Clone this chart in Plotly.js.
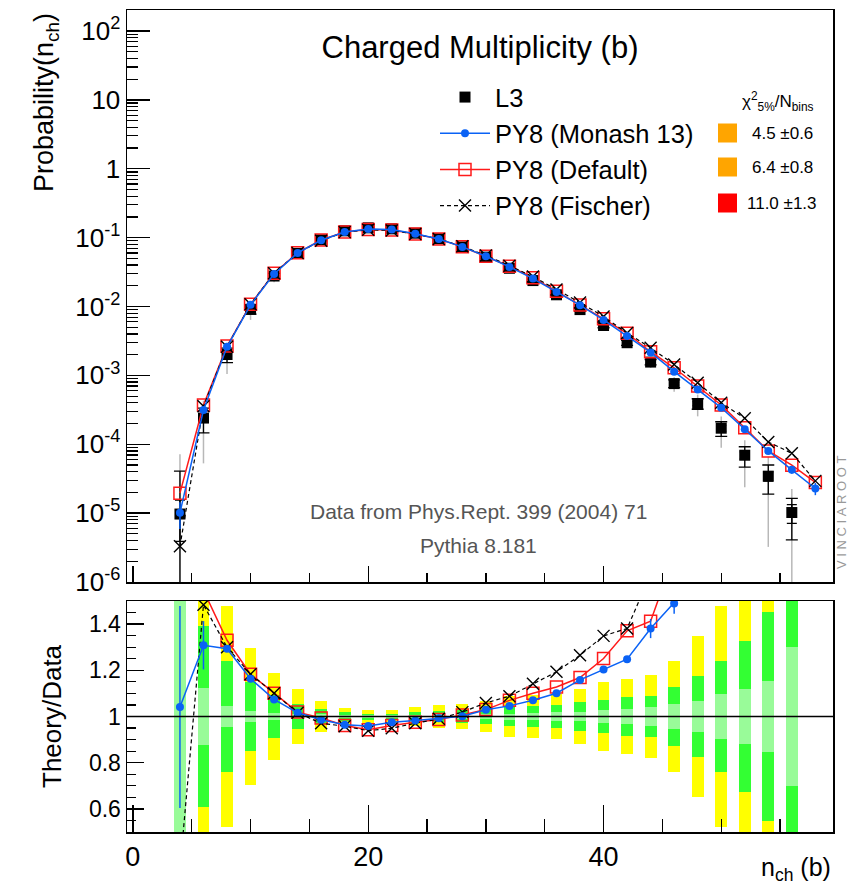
<!DOCTYPE html>
<html><head><meta charset="utf-8">
<script src="https://cdn.plot.ly/plotly-3.0.1.min.js"></script>
<style>html,body{margin:0;padding:0;background:#fff;} #plot{width:861px;height:887px;}</style>
</head><body><div id="plot"></div>
<script>
// ---------- data ----------
const nModel = [4,6,8,10,12,14,16,18,20,22,24,26,28,30,32,34,36,38,40,42,44,46,48,50,52,54,56,58];
const nData  = [4,6,8,10,12,14,16,18,20,22,24,26,28,30,32,34,36,38,40,42,44,46,48,50,52,54,56];
const l3 = [9.7e-6, 2.4e-4, 2.01e-3, 9.1e-3, 0.0277, 0.059, 0.093, 0.1255, 0.1387, 0.134, 0.116, 0.0964, 0.0733,
            0.0521, 0.0359, 0.0238, 0.0148, 0.00902, 0.0053, 0.00298, 0.00156, 0.00076, 0.00039, 0.000171,
            0.0000693, 0.0000344, 0.0000102];
// relative uncertainties of L3 (stat, total 1 sigma, 2 sigma band)
const l3Stat = [0.6, 0.123, 0.045, 0.022, 0.015, 0.012, 0.010, 0.008, 0.007, 0.007, 0.008, 0.009, 0.010, 0.011,
                0.013, 0.015, 0.018, 0.018, 0.027, 0.031, 0.039, 0.052, 0.069, 0.098, 0.121, 0.152, 0.302];
const l3Tot  = [3.2, 0.39, 0.24, 0.149, 0.095, 0.055, 0.032, 0.018, 0.013, 0.013, 0.020, 0.025, 0.029, 0.034,
                0.043, 0.047, 0.050, 0.061, 0.073, 0.083, 0.089, 0.129, 0.174, 0.240, 0.328, 0.453, 0.60];
const l3Two  = [6.4, 0.78, 0.48, 0.297, 0.19, 0.117, 0.065, 0.036, 0.026, 0.026, 0.041, 0.051, 0.056, 0.068,
                0.087, 0.094, 0.098, 0.12, 0.148, 0.163, 0.178, 0.24, 0.348, 0.48, 0.656, 0.906, 1.2];
const monash = [1.01e-5, 3.14e-4, 2.60e-3, 1.059e-2, 0.02975, 0.05994, 0.0917, 0.1210, 0.1330, 0.1307, 0.1140,
                0.0957, 0.0734, 0.0536, 0.03755, 0.02547, 0.01629, 0.01045, 0.00638, 0.00372, 0.002154, 0.001132,
                6.26e-4, 3.4e-4, 1.65e-4, 8.0e-5, 4.25e-5, 2.28e-5];
const monashErr = [0.42, 0.08, 0.01, 0,0,0,0,0,0,0,0,0,0,0,0,0,0,0, 0.01, 0.01, 0.03, 0.03, 0.04, 0.05, 0.07, 0.09, 0.12, 0.2];
const deflt = [1.95e-5, 3.71e-4, 2.673e-3, 1.0765e-2, 0.0305, 0.06012, 0.09244, 0.1206, 0.1308, 0.1288, 0.1131,
               0.09515, 0.07381, 0.05366, 0.03841, 0.0262, 0.01669, 0.01054, 0.00663, 0.004086, 0.002204, 1.29e-3,
               7.0e-4, 3.72e-4, 1.74e-4, 8.0e-5, 4.97e-5, 2.79e-5];
const fischer = [3.3e-6, 3.56e-4, 2.613e-3, 1.0765e-2, 0.0305, 0.05994, 0.0903, 0.1202, 0.1302, 0.1272, 0.1126,
                 0.09544, 0.07469, 0.05517, 0.03906, 0.02718, 0.01766, 0.01141, 0.00715, 0.004115, 2.52e-3, 1.44e-3,
                 7.8e-4, 4.0e-4, 2.38e-4, 1.08e-4, 7.4e-5, 2.94e-5];
const seriesNames = ['L3', 'PY8 (Monash 13)', 'PY8 (Default)', 'PY8 (Fischer)'];
const chi2Text = ['4.5 \u00B10.6', '6.4 \u00B10.8', '11.0 \u00B11.3'];
const chi2Colors = ['#FFA500', '#FFA500', '#FF0000'];
const yTickVals = [1e-6, 1e-5, 1e-4, 1e-3, 1e-2, 1e-1, 1, 10, 100];
const yTickText = ['10<sup>-6</sup>','10<sup>-5</sup>','10<sup>-4</sup>','10<sup>-3</sup>','10<sup>-2</sup>',
                   '10<sup>-1</sup>','1','10','10<sup>2</sup>'];

// ---------- layout helpers ----------
const W = 861, H = 887, ML = 127, MR = 28, MT = 10, MB = 55;
const PW = W - ML - MR, PH = H - MT - MB;
const px2x = p => (p - ML) / PW;
const py2y = p => (H - MB - p) / PH;
const FONT = 'Liberation Sans, Arial, Helvetica, sans-serif';
const BLUE = '#0A62F5', RED = '#FF1A1A';

const ratio = arr => nData.map((n, i) => arr[i] / l3[i]);
const scaled = (vals, rel) => vals.map((v, i) => v * rel[i]);

const minorLog = [];
for (let k = -6; k <= 2; k++) for (let d = 2; d <= 9; d++) minorLog.push(d * Math.pow(10, k));

const traces = [];
// data uncertainty bars in the top panel
traces.push({x: nData, y: l3, type: 'scatter', mode: 'markers', marker: {size: 1, color: 'rgba(0,0,0,0)'},
  error_y: {type: 'data', array: scaled(l3, l3Two), color: '#b8b8b8', thickness: 1.5, width: 0},
  showlegend: false, hoverinfo: 'skip', xaxis: 'x', yaxis: 'y'});
traces.push({x: nData, y: l3, type: 'scatter', mode: 'markers', marker: {size: 1, color: 'rgba(0,0,0,0)'},
  error_y: {type: 'data', array: scaled(l3, l3Tot), color: '#000', thickness: 1.3, width: 6},
  showlegend: false, hoverinfo: 'skip', xaxis: 'x', yaxis: 'y'});
traces.push({x: nData, y: l3, type: 'scatter', mode: 'markers', marker: {size: 1, color: 'rgba(0,0,0,0)'},
  error_y: {type: 'data', array: scaled(l3, l3Stat), color: '#000', thickness: 1.3, width: 5},
  showlegend: false, hoverinfo: 'skip', xaxis: 'x', yaxis: 'y'});
traces.push({x: nData, y: l3, type: 'scatter', mode: 'markers', name: seriesNames[0], legendrank: 1,
  marker: {symbol: 'square', size: 11, color: '#000'}, xaxis: 'x', yaxis: 'y'});
traces.push({x: nModel, y: deflt, type: 'scatter', mode: 'lines+markers', name: seriesNames[2], legendrank: 3,
  line: {color: RED, width: 1.5}, marker: {symbol: 'square-open', size: 12, color: RED, line: {width: 1.5, color: RED}},
  xaxis: 'x', yaxis: 'y'});
traces.push({x: nModel, y: fischer, type: 'scatter', mode: 'lines+markers', name: seriesNames[3], legendrank: 4,
  line: {color: '#000', width: 1.2, dash: '4px,3px'}, marker: {symbol: 'x-thin-open', size: 12, color: '#000', line: {width: 1.4, color: '#000'}},
  xaxis: 'x', yaxis: 'y'});
traces.push({x: nModel, y: monash, type: 'scatter', mode: 'lines+markers', name: seriesNames[1], legendrank: 2,
  line: {color: BLUE, width: 1.5}, marker: {symbol: 'circle', size: 8, color: BLUE},
  error_y: {type: 'data', array: scaled(monash, monashErr), color: BLUE, thickness: 1.5, width: 0},
  xaxis: 'x', yaxis: 'y'});

// ratio panel: data uncertainty bands
const band = (rel, color) => ({x: nData, y: rel.map(e => 2 * e), base: rel.map(e => 1 - e), type: 'bar',
  width: nData.map(() => 1), marker: {color: color, line: {width: 0}}, showlegend: false, hoverinfo: 'skip',
  xaxis: 'x2', yaxis: 'y2'});
traces.push(band(l3Two, '#FFFF00'));
traces.push(band(l3Tot, '#33FF33'));
traces.push(band(l3Stat, '#99FB99'));

const rDef = ratio(deflt), rFis = ratio(fischer), rMon = ratio(monash);
traces.push({x: nData, y: rDef, type: 'scatter', mode: 'lines+markers', showlegend: false,
  line: {color: RED, width: 1.5}, marker: {symbol: 'square-open', size: 12, color: RED, line: {width: 1.5, color: RED}},
  xaxis: 'x2', yaxis: 'y2'});
traces.push({x: nData, y: rFis, type: 'scatter', mode: 'lines+markers', showlegend: false,
  line: {color: '#000', width: 1.2, dash: '4px,3px'}, marker: {symbol: 'x-thin-open', size: 12, color: '#000', line: {width: 1.4, color: '#000'}},
  xaxis: 'x2', yaxis: 'y2'});
traces.push({x: nData, y: rMon, type: 'scatter', mode: 'lines+markers', showlegend: false,
  line: {color: BLUE, width: 1.5}, marker: {symbol: 'circle', size: 8, color: BLUE},
  error_y: {type: 'data', array: rMon.map((r, i) => r * monashErr[i]), color: BLUE, thickness: 1.5, width: 0},
  xaxis: 'x2', yaxis: 'y2'});

const axBase = {showline: true, mirror: true, linecolor: '#000', linewidth: 1.5, showgrid: false, zeroline: false,
  ticks: 'inside', tickcolor: '#000', tickwidth: 1.3, tickfont: {family: FONT, size: 26, color: '#000'}};

const annotations = [
  {text: 'Probability(n<sub>ch</sub>)', textangle: -90, xref: 'paper', yref: 'paper', x: px2x(46), y: py2y(103),
   xanchor: 'center', yanchor: 'middle', showarrow: false, font: {family: FONT, size: 27, color: '#000'}},
  {text: 'Theory/Data', textangle: -90, xref: 'paper', yref: 'paper', x: px2x(52), y: py2y(716),
   xanchor: 'center', yanchor: 'middle', showarrow: false, font: {family: FONT, size: 26, color: '#000'}},
  {text: 'n<sub>ch</sub> (b)', xref: 'paper', yref: 'paper', x: px2x(833), y: py2y(869),
   xanchor: 'right', yanchor: 'middle', showarrow: false, font: {family: FONT, size: 25, color: '#000'}},
  {text: 'Data from Phys.Rept. 399 (2004) 71', xref: 'paper', yref: 'paper', x: px2x(478), y: py2y(511),
   xanchor: 'center', yanchor: 'middle', showarrow: false, font: {family: FONT, size: 21, color: '#555'}},
  {text: 'Pythia 8.181', xref: 'paper', yref: 'paper', x: px2x(478), y: py2y(545),
   xanchor: 'center', yanchor: 'middle', showarrow: false, font: {family: FONT, size: 21, color: '#555'}},
  {text: '\u03C7<sup>2</sup><sub>5%</sub>/N<sub>bins</sub>', xref: 'paper', yref: 'paper', x: px2x(778), y: py2y(101),
   xanchor: 'center', yanchor: 'middle', showarrow: false, font: {family: FONT, size: 17, color: '#000'}},
  {text: 'V\u00A0I\u00A0N\u00A0C\u00A0I\u00A0A\u00A0R\u00A0O\u00A0O\u00A0T', textangle: -90, xref: 'paper', yref: 'paper',
   x: px2x(841), y: py2y(513), xanchor: 'center', yanchor: 'middle', showarrow: false,
   font: {family: FONT, size: 13, color: '#999'}}
];
const rowY = [133, 167, 203];
const shapes = [
  {type: 'line', xref: 'x2 domain', yref: 'y2', x0: 0, x1: 1, y0: 1, y1: 1, line: {color: '#000', width: 1.3}, layer: 'above'}
];
chi2Text.forEach((t, i) => {
  annotations.push({text: t, xref: 'paper', yref: 'paper', x: px2x(782), y: py2y(rowY[i]), xanchor: 'center',
    yanchor: 'middle', showarrow: false, font: {family: FONT, size: 17, color: '#000'}});
  shapes.push({type: 'rect', xref: 'paper', yref: 'paper', x0: px2x(718), x1: px2x(737),
    y0: py2y(rowY[i] + 9.5), y1: py2y(rowY[i] - 9.5), fillcolor: chi2Colors[i], line: {width: 0}});
});

const layout = {
  width: W, height: H, margin: {l: ML, r: MR, t: MT, b: MB}, paper_bgcolor: '#fff', plot_bgcolor: '#fff',
  font: {family: FONT, color: '#000'},
  title: {text: 'Charged Multiplicity (b)', font: {family: FONT, size: 31, color: '#000'}, xref: 'paper', x: 0.5,
          xanchor: 'center', yref: 'container', y: 1 - 47 / H, yanchor: 'middle'},
  barmode: 'overlay', bargap: 0,
  showlegend: true,
  legend: {x: px2x(435), y: py2y(74), xanchor: 'left', yanchor: 'top', bgcolor: 'rgba(0,0,0,0)', borderwidth: 0,
           font: {family: FONT, size: 25.5, color: '#000'}, itemwidth: 50, tracegroupgap: 0},
  xaxis: Object.assign({}, axBase, {domain: [0, 1], anchor: 'y', range: [-0.5, 59.5], tick0: 0, dtick: 20,
          ticklen: 16, showticklabels: false,
          minor: {ticks: 'inside', tick0: 0, dtick: 5, ticklen: 9, tickcolor: '#000', tickwidth: 1.3}}),
  yaxis: Object.assign({}, axBase, {domain: [py2y(582), 1], anchor: 'x', type: 'log', range: [-6, 2.305],
          tickmode: 'array', tickvals: yTickVals, ticktext: yTickText, ticklen: 23,
          minor: {ticks: 'inside', tickmode: 'array', tickvals: minorLog, ticklen: 11, tickcolor: '#000', tickwidth: 1.2}}),
  xaxis2: Object.assign({}, axBase, {domain: [0, 1], anchor: 'y2', range: [-0.5, 59.5], tick0: 0, dtick: 20,
          ticklen: 27, tickfont: {family: FONT, size: 27, color: '#000'},
          minor: {ticks: 'inside', tick0: 0, dtick: 5, ticklen: 13, tickcolor: '#000', tickwidth: 1.3}}),
  yaxis2: Object.assign({}, axBase, {domain: [0, py2y(601)], anchor: 'x2', range: [0.5, 1.5], tick0: 0, dtick: 0.2,
          ticklen: 17, tickfont: {family: FONT, size: 23, color: '#000'},
          minor: {ticks: 'inside', tick0: 0, dtick: 0.05, ticklen: 9, tickcolor: '#000', tickwidth: 1.2}}),
  annotations: annotations, shapes: shapes
};

Plotly.newPlot('plot', traces, layout, {displayModeBar: false, staticPlot: true});
</script>
</body></html>
